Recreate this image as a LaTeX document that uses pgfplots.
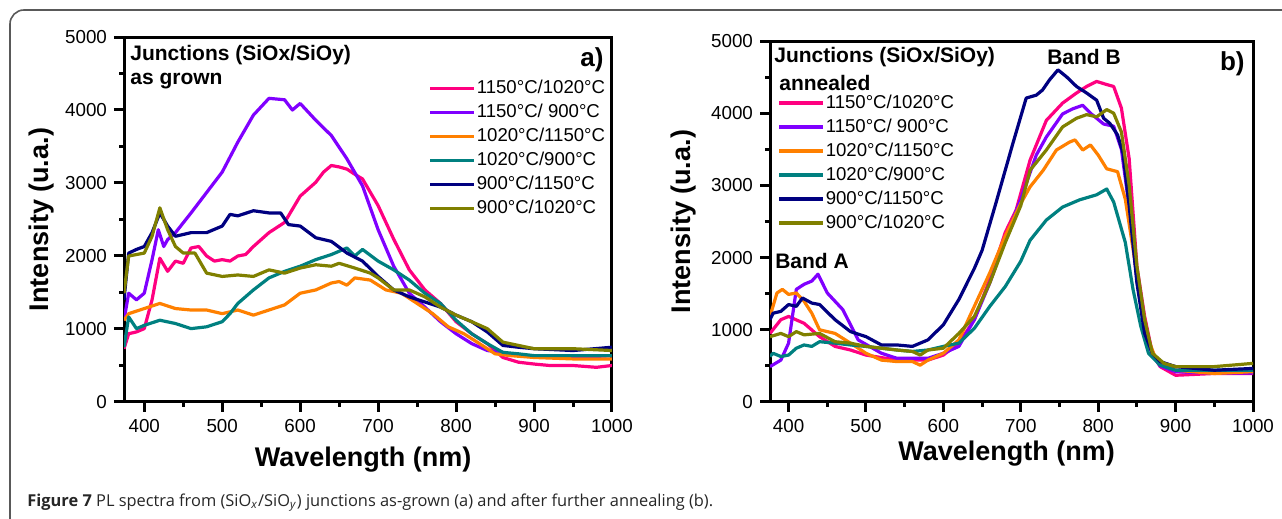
\documentclass[border=0pt]{standalone}
\usepackage{fontspec}
\setmainfont{Liberation Sans}
\newfontfamily\capfont{Open Sans}
\usepackage{pgfplots}
\pgfplotsset{compat=1.18}

\definecolor{cPink}{HTML}{FF0080}
\definecolor{cViolet}{HTML}{8000FF}
\definecolor{cOrange}{HTML}{FF8000}
\definecolor{cTeal}{HTML}{008080}
\definecolor{cNavy}{HTML}{000080}
\definecolor{cOlive}{HTML}{808000}

\pgfplotsset{
  plspec/.style={
    scale only axis,
    axis line style={line width=1.5pt},
    xmax=1000, ymin=0, ymax=5000,
    xtick={400,500,...,1000}, ytick={0,1000,...,5000},
    minor x tick num=1, minor y tick num=1,
    xtick pos=bottom, ytick pos=left, tick align=outside,
    major tick length=5pt, minor tick length=2.5pt,
    every tick/.style={line width=1.5pt, black},
    /pgf/number format/assume math mode=true,
    /pgf/number format/1000 sep={},
    tick label style={font=\fontsize{9.4}{11}\selectfont},
    xlabel={Wavelength (nm)}, ylabel={Intensity (u.a.)},
    label style={font=\fontsize{13.5}{15}\selectfont\bfseries},
    every axis plot/.append style={line width=1.6pt, line join=round},
    legend cell align=left,
    legend image code/.code={\draw[#1, line width=1.6pt] (0pt,0pt) -- (22pt,0pt);},
    legend style={draw=none, fill=none, anchor=north west,
      font=\fontsize{9.3}{10}\selectfont, inner sep=0pt, row sep=1.6pt,
      nodes={inner sep=0.6pt, text height=7.2pt, text depth=2pt}},
  },
}

\begin{document}
\begin{tikzpicture}[x=0.5pt, y=0.5pt]
\useasboundingbox (0,0) rectangle (1282,519);
\draw[black!65, line width=0.8pt, rounded corners=7pt] (10,-40) rectangle (1320,509);

% ---------- panel a: as grown
\begin{axis}[plspec, at={(62pt,58.5pt)}, anchor=south west,
  width=244pt, height=182.5pt, xmin=374,
  xlabel style={at={(axis description cs:0.49,-0.159)}, anchor=center},
  ylabel style={at={(axis description cs:-0.168,0.5)}, anchor=center},
  legend style={at={(rel axis cs:0.623,0.888)}}]
\addplot[cPink] coordinates {(374,730)(380,935)(390,960)(400,1005)(410,1400)(420,1970)(430,1790)(440,1930)(450,1900)(460,2110)(470,2130)(480,2000)(490,1930)(500,1950)(510,1930)(520,2000)(530,2020)(540,2130)(560,2320)(580,2460)(600,2820)(620,3010)(630,3150)(640,3240)(650,3220)(660,3190)(670,3120)(680,3055)(700,2690)(720,2230)(740,1810)(760,1535)(780,1350)(800,1100)(820,935)(840,800)(860,610)(880,545)(900,520)(920,500)(950,500)(980,475)(1000,500)};
\addplot[cViolet] coordinates {(374,1120)(380,1490)(390,1400)(400,1490)(410,1950)(418,2360)(425,2130)(430,2225)(440,2320)(460,2590)(480,2870)(500,3150)(520,3560)(540,3930)(560,4160)(580,4140)(590,4000)(600,4090)(620,3860)(640,3650)(660,3330)(680,2960)(700,2360)(720,1860)(740,1490)(760,1300)(780,1100)(800,935)(820,800)(840,705)(860,680)(880,635)(900,635)(950,610)(1000,635)};
\addplot[cOrange] coordinates {(374,1120)(380,1210)(400,1280)(420,1350)(440,1280)(460,1260)(480,1260)(500,1210)(520,1260)(540,1190)(560,1260)(580,1330)(600,1490)(620,1535)(640,1630)(650,1650)(660,1600)(670,1700)(690,1670)(710,1535)(730,1490)(750,1350)(770,1210)(790,1030)(810,935)(830,800)(850,660)(870,635)(900,610)(950,590)(1000,590)};
\addplot[cTeal] coordinates {(374,750)(380,1165)(390,1005)(400,1050)(420,1120)(440,1075)(460,1005)(480,1030)(500,1100)(510,1210)(520,1350)(540,1535)(560,1700)(580,1790)(600,1860)(620,1950)(640,2020)(660,2110)(670,2000)(680,2090)(700,1930)(720,1810)(740,1670)(760,1490)(780,1350)(800,1120)(820,935)(840,800)(860,680)(880,660)(900,635)(950,635)(1000,635)};
\addplot[cNavy] coordinates {(374,1400)(380,2040)(390,2090)(400,2130)(410,2320)(420,2590)(430,2410)(440,2270)(460,2320)(480,2320)(500,2410)(510,2570)(520,2550)(540,2620)(560,2590)(575,2590)(585,2430)(600,2410)(620,2250)(640,2200)(660,2040)(680,1930)(700,1720)(720,1535)(740,1440)(760,1370)(780,1300)(800,1190)(820,1100)(840,960)(860,775)(880,750)(900,730)(950,705)(1000,750)};
\addplot[cOlive] coordinates {(374,1490)(380,2000)(400,2040)(410,2270)(420,2660)(430,2360)(440,2130)(450,2040)(465,2040)(480,1765)(500,1720)(520,1740)(540,1720)(560,1810)(580,1765)(600,1835)(620,1880)(640,1860)(650,1900)(670,1835)(690,1765)(700,1700)(720,1535)(740,1535)(760,1440)(780,1300)(800,1190)(820,1100)(840,1005)(860,820)(880,775)(900,730)(950,730)(1000,705)};
\legend{1150°C/1020°C, 1150°C/ 900°C, 1020°C/1150°C, 1020°C/900°C, 900°C/1150°C, 900°C/1020°C}
\end{axis}

% ---------- panel b: annealed
\begin{axis}[plspec, at={(385pt,58.5pt)}, anchor=south west,
  width=241.5pt, height=180.5pt, xmin=376,
  xlabel style={at={(axis description cs:0.49,-0.144)}, anchor=center},
  ylabel style={at={(axis description cs:-0.180,0.5)}, anchor=center},
  legend style={at={(rel axis cs:0.0145,0.858)}}]
\addplot[cPink] coordinates {(376,950)(390,1140)(400,1185)(420,1090)(440,905)(460,770)(480,720)(500,650)(540,580)(580,580)(600,650)(620,815)(640,1140)(660,1700)(680,2350)(694,2660)(712,3350)(733,3900)(754,4140)(772,4280)(785,4370)(798,4440)(810,4400)(820,4370)(830,4070)(840,3370)(850,1880)(860,1185)(870,675)(880,490)(900,370)(950,395)(1000,395)};
\addplot[cViolet] coordinates {(376,490)(390,580)(400,815)(410,1560)(420,1630)(430,1675)(438,1770)(450,1510)(470,1280)(490,860)(520,675)(540,605)(580,605)(600,675)(620,770)(640,1140)(660,1650)(680,2260)(700,2810)(720,3420)(733,3670)(754,3990)(767,4060)(780,4110)(790,4000)(807,3850)(820,3820)(830,3500)(840,2700)(850,1700)(860,1000)(870,650)(880,500)(900,420)(950,400)(1000,400)};
\addplot[cOrange] coordinates {(376,1185)(385,1510)(392,1560)(400,1490)(410,1510)(420,1395)(430,1230)(440,1000)(460,950)(480,815)(500,675)(520,580)(540,560)(560,560)(570,510)(580,580)(600,675)(620,860)(640,1325)(660,1790)(680,2300)(700,2750)(712,2980)(729,3210)(746,3490)(763,3600)(770,3630)(780,3490)(790,3560)(800,3420)(811,3230)(825,3190)(835,2810)(845,2120)(855,1420)(865,860)(875,580)(890,490)(900,440)(950,395)(1000,420)};
\addplot[cTeal] coordinates {(376,630)(380,675)(390,630)(400,650)(410,745)(420,790)(430,770)(440,835)(460,815)(480,790)(500,770)(520,745)(540,720)(560,700)(580,720)(600,770)(620,815)(640,1020)(660,1325)(680,1600)(700,1950)(712,2240)(733,2520)(754,2700)(776,2800)(798,2870)(811,2950)(820,2770)(835,2210)(845,1560)(855,1050)(865,675)(880,510)(900,440)(950,440)(1000,440)};
\addplot[cNavy] coordinates {(376,1140)(380,1230)(390,1255)(400,1350)(410,1325)(418,1440)(430,1370)(440,1350)(460,1140)(480,975)(500,905)(520,790)(540,790)(560,770)(580,860)(600,1070)(620,1420)(640,1850)(650,2100)(668,2760)(690,3590)(707,4210)(720,4250)(728,4320)(737,4460)(748,4600)(759,4505)(772,4370)(785,4280)(798,4180)(807,3930)(815,3860)(825,3700)(832,3450)(840,2720)(850,1650)(860,950)(870,675)(880,560)(900,490)(950,440)(1000,465)};
\addplot[cOlive] coordinates {(376,905)(390,950)(400,905)(410,975)(420,930)(440,950)(460,835)(480,815)(500,770)(520,745)(540,720)(560,700)(570,650)(580,720)(600,745)(620,950)(640,1185)(660,1650)(680,2210)(700,2720)(712,3210)(733,3490)(754,3810)(772,3930)(785,3980)(798,3950)(811,4050)(820,4000)(830,3740)(840,3000)(850,1880)(860,1140)(870,675)(885,535)(900,490)(950,490)(1000,535)};
\legend{1150°C/1020°C, 1150°C/ 900°C, 1020°C/1150°C, 1020°C/900°C, 900°C/1150°C, 900°C/1020°C}
\end{axis}

% ---------- panel annotations
\begin{scope}[every node/.style={inner sep=0pt, font=\fontsize{10.5}{12}\selectfont\bfseries}]
\node[anchor=west] at (130,464) {Junctions (SiOx/SiOy)};
\node[anchor=west] at (130,438) {as grown};
\node[anchor=east, font=\fontsize{13}{15}\selectfont\bfseries] at (604,459) {a)};
\node[anchor=west] at (774,462) {Junctions (SiOx/SiOy)};
\node[anchor=west] at (779,436) {annealed};
\node[anchor=east, font=\fontsize{13}{15}\selectfont\bfseries] at (1245,455) {b)};
\node at (1084,462) {Band B};
\node at (812,258) {Band A};
\end{scope}

% ---------- caption
\node[anchor=base west, inner sep=0pt, text=black!85, font=\capfont\fontsize{8.2}{9}\selectfont]
  at (27,12) {\textbf{Figure 7} PL spectra from (SiO\textsubscript{\textit{x}}/SiO\textsubscript{\textit{y}}) junctions as-grown (a) and after further annealing (b).};
\end{tikzpicture}
\end{document}
